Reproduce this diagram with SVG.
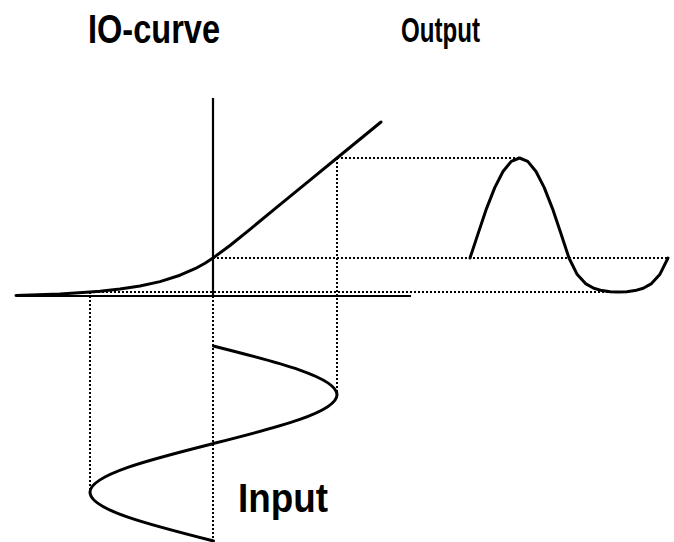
<svg xmlns="http://www.w3.org/2000/svg" width="674" height="542" viewBox="0 0 674 542">
<style>
.dot{fill:none;stroke:#000;stroke-width:2;stroke-dasharray:2 2}
.ax{fill:none;stroke:#000;stroke-width:2.2}
.cv{fill:none;stroke:#000;stroke-width:3;stroke-linejoin:round;stroke-linecap:round}
.lbl{font-family:"Liberation Sans",Arial,sans-serif;font-weight:bold;fill:#000}
</style>
<rect width="674" height="542" fill="#fff"/>
<g id="connectors">
<line class="dot" x1="337" y1="158" x2="519" y2="158"/>
<line class="dot" x1="337" y1="158" x2="337" y2="395"/>
<line class="dot" x1="213" y1="258" x2="668" y2="258"/>
<line class="dot" x1="90" y1="292" x2="618" y2="292"/>
<line class="dot" x1="90" y1="292" x2="90" y2="492"/>
<line class="dot" x1="213" y1="296" x2="213" y2="542"/>
</g>
<g id="axes">
<line class="ax" x1="213" y1="98" x2="213" y2="296"/>
<line class="ax" x1="16" y1="296" x2="411" y2="296"/>
</g>
<g id="io-curve">
<polyline class="cv" points="16,295.5 60,294 90,292 100,291.2 120,289.1 140,286 160,281.6 180,275.2 195,268.7 205,263.2 213,258 230,245.5 250,229.3 280,204.7 310,180.1 337,158 381,122"/>
<text class="lbl" x="88" y="43" font-size="40" textLength="132" lengthAdjust="spacingAndGlyphs">IO-curve</text>
</g>
<g id="output">
<polyline class="cv" points="470,258 478.25,233.1 486.5,208.6 494.75,187.6 503,171.5 511.25,161.4 519.5,158 527.75,161.4 536,171.5 544.25,187.6 552.5,208.6 560.75,233.1 569,258 577.25,274.6 585.5,283.6 593.75,288.2 602,290.6 610.25,291.7 618.5,292 626.75,291.7 635,290.6 643.25,288.2 651.5,283.6 659.75,274.6 668,258"/>
<text class="lbl" x="401" y="42" font-size="35" textLength="79" lengthAdjust="spacingAndGlyphs">Output</text>
</g>
<g id="input">
<path class="cv" d="M213.5,346 C276.5,361.9 337,377.1 337,394.75 C337,412.4 276.5,427.6 213.5,443.5 C150.5,459.4 90,474.6 90,492.25 C90,509.9 150.5,525.1 213.5,541"/>
<text class="lbl" x="238" y="512" font-size="40" textLength="90" lengthAdjust="spacingAndGlyphs">Input</text>
</g>
</svg>
